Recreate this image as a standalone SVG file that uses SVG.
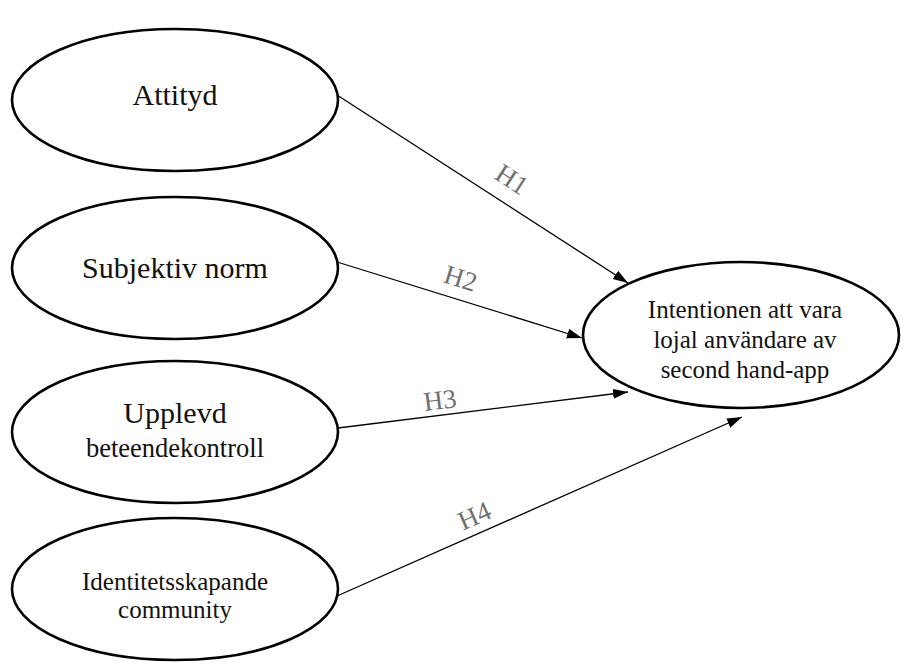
<svg xmlns="http://www.w3.org/2000/svg" width="903" height="670" viewBox="0 0 903 670">
<style>
.node ellipse{fill:#fff;stroke:#000;stroke-width:2.6}
.t{font-family:"Liberation Serif","Times New Roman",serif;fill:#111;text-anchor:middle}
.lbl{font-family:"Liberation Serif","Times New Roman",serif;fill:#707070;font-size:27px;text-anchor:middle}
.edge{stroke:#000;stroke-width:1.3;fill:none;marker-end:url(#ah)}
</style>
<defs>
<marker id="ah" markerWidth="16" markerHeight="12" refX="15" refY="5" orient="auto" markerUnits="userSpaceOnUse">
<path d="M0,0 L15,5 L0,10 z" fill="#000"/>
</marker>
</defs>
<rect width="903" height="670" fill="#fff"/>
<g id="connectors">
<line class="edge" x1="337" y1="95" x2="628" y2="283"/>
<line class="edge" x1="337" y1="262" x2="582" y2="338"/>
<line class="edge" x1="338" y1="428" x2="628" y2="392"/>
<line class="edge" x1="337" y1="596" x2="742" y2="417"/>
<text class="lbl" transform="translate(507,187) rotate(32.9)">H1</text>
<text class="lbl" transform="translate(458,287) rotate(17.2)">H2</text>
<text class="lbl" transform="translate(441,409) rotate(-7.1)">H3</text>
<text class="lbl" transform="translate(478,524) rotate(-23.8)">H4</text>
</g>
<g id="attityd" class="node">
<ellipse cx="175" cy="100" rx="163" ry="71"/>
<text class="t" x="175" y="105" font-size="30">Attityd</text>
</g>
<g id="subjektiv" class="node">
<ellipse cx="175" cy="268" rx="163" ry="71"/>
<text class="t" x="175" y="278" font-size="30">Subjektiv norm</text>
</g>
<g id="upplevd" class="node">
<ellipse cx="175" cy="432" rx="163" ry="71"/>
<text class="t" x="175" y="423" font-size="30">Upplevd</text>
<text class="t" x="175" y="457" font-size="26.5">beteendekontroll</text>
</g>
<g id="identitet" class="node">
<ellipse cx="175" cy="589" rx="163" ry="71"/>
<text class="t" x="175" y="590" font-size="25">Identitetsskapande</text>
<text class="t" x="175" y="618" font-size="25">community</text>
</g>
<g id="intention" class="node">
<ellipse cx="741" cy="335" rx="158" ry="73"/>
<text class="t" x="745" y="318" font-size="25">Intentionen att vara</text>
<text class="t" x="745" y="348" font-size="25">lojal användare av</text>
<text class="t" x="745" y="378" font-size="25">second hand-app</text>
</g>
</svg>
